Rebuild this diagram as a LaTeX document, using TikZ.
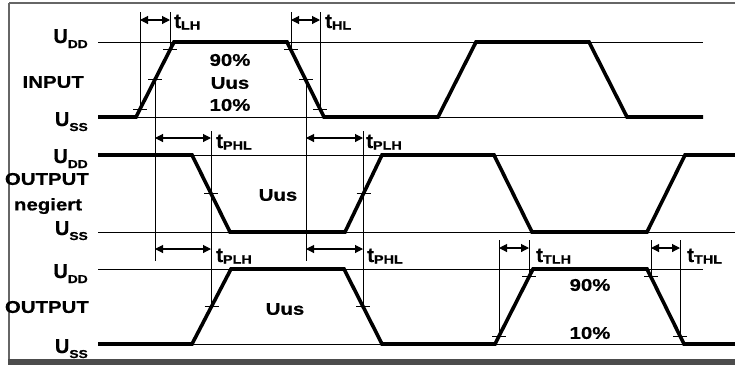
\documentclass[tikz,border=0pt]{standalone}
\usepackage{fontspec}
\setmainfont[BoldFeatures={FakeBold=0.6}]{Liberation Sans}
\newfontfamily\widefont[FakeStretch=1.2, BoldFeatures={FakeBold=0.6}]{Liberation Sans}
\usetikzlibrary{arrows.meta}
\newcommand\ulab[1]{{\fontsize{20}{20}\bfseries\selectfont U}\raisebox{-5pt}{\widefont\fontsize{11.5}{11.5}\bfseries\selectfont #1}}
\newcommand\tlab[1]{{\fontsize{20.5}{20.5}\bfseries\selectfont t}\raisebox{-1.5pt}{\widefont\fontsize{12}{12}\bfseries\selectfont #1}}
\tikzset{
  wave/.style={line width=3.6pt, line join=miter},
  refline/.style={line width=0.8pt},
  vline/.style={line width=0.8pt},
  tickmark/.style={line width=1.5pt},
  dimarrow/.style={line width=1.1pt, {Triangle[length=8pt,width=8pt]}-{Triangle[length=8pt,width=8pt]}},
  txt/.style={font=\widefont\fontsize{17}{17}\bfseries\selectfont, inner sep=0pt},
  lvl/.style={inner sep=0pt, anchor=base east},
  tl/.style={inner sep=0pt, anchor=base west},
}
\begin{document}
\begin{tikzpicture}[x=1pt,y=-1pt]
\useasboundingbox (0,0) rectangle (735,365);
\fill[white] (0,0) rectangle (735,365);
% frame
\draw[line width=2.2pt, black!60] (9,3) -- (9,360) ;
\draw[line width=2.2pt, black!60] (9,3) -- (740,3);
\fill[black!70] (8,359) rectangle (740,365);

% reference lines
\draw[refline] (98,42) -- (703,42);
\draw[refline] (98,117) -- (703,117);
\draw[refline] (98,155) -- (735,155);
\draw[refline] (98,232) -- (735,232);
\draw[refline] (98,269) -- (703,269);
\draw[refline] (98,344.5) -- (735,344.5);

% vertical helper lines
\draw[vline] (140,12) -- (140,110);
\draw[vline] (170,12) -- (170,50);
\draw[vline] (291,12) -- (291,50);
\draw[vline] (320,12) -- (320,110);
\draw[vline] (155,80) -- (155,261);
\draw[vline] (306,80) -- (306,261);
\draw[vline] (211,131) -- (211,309);
\draw[vline] (363,131) -- (363,309);
\draw[vline] (499,240) -- (499,337);
\draw[vline] (529,240) -- (529,277);
\draw[vline] (651,240) -- (651,277);
\draw[vline] (680,240) -- (680,337);

% dimension arrows
\draw[dimarrow] (140,20) -- (170,20);
\draw[dimarrow] (291,20) -- (320,20);
\draw[dimarrow] (155,138) -- (211,138);
\draw[dimarrow] (306,138) -- (363,138);
\draw[dimarrow] (155,249) -- (211,249);
\draw[dimarrow] (306,249) -- (363,249);
\draw[dimarrow] (499,248) -- (529,248);
\draw[dimarrow] (651,248) -- (680,248);

% waveforms
\draw[wave] (98,117) -- (136,117) -- (174,42) -- (287,42) -- (324,117) -- (438,117) -- (476,42) -- (589,42) -- (627,117) -- (703,117);
\draw[wave] (98,155) -- (192,155) -- (230,232) -- (345,232) -- (382,155) -- (494,155) -- (532,232) -- (647,232) -- (685,155) -- (736,155);
\draw[wave] (98,344) -- (192,344) -- (231,269) -- (344,269) -- (382,344) -- (495,344) -- (533,269) -- (647,269) -- (684,344) -- (736,344);

% tick marks
\foreach \x/\y in {140/109.5, 155/79.5, 170/49.5, 291/49.5, 306/79.5, 320/109.5,
                   211/193.5, 363.5/193.5, 211.5/306.5, 363/306.5,
                   499/336.5, 529/276.5, 651/276.5, 680/336.5}
  \draw[tickmark] (\x-7,\y) -- (\x+7,\y);

% level labels
\node[lvl] (udd1) at (88,43) {\ulab{DD}};
\node[lvl] (uss1) at (88,126) {\ulab{SS}};
\node[lvl] (udd2) at (88,163) {\ulab{DD}};
\node[lvl] (uss2) at (88,235) {\ulab{SS}};
\node[lvl] (udd3) at (88,278) {\ulab{DD}};
\node[lvl] (uss3) at (88,353) {\ulab{SS}};

% signal names
\node[txt, anchor=east] (in) at (84,82) {INPUT};
\node[txt, anchor=east] (outn) at (89,179) {OUTPUT};
\node[txt] (neg) at (48,206) {negiert};
\node[txt, anchor=east] (out) at (89,307) {OUTPUT};

% inner texts
\node[txt] (p90a) at (230,60) {90\%};
\node[txt] (uus1) at (230,83) {Uus};
\node[txt] (p10a) at (230,105) {10\%};
\node[txt] (uus2) at (278,195) {Uus};
\node[txt] (uus3) at (285,309) {Uus};
\node[txt] (p90b) at (590,285) {90\%};
\node[txt] (p10b) at (590,333) {10\%};

% timing labels
\node[tl] (tlh) at (174,28) {\tlab{LH}};
\node[tl] (thl) at (325,28) {\tlab{HL}};
\node[tl] (tphl2) at (216,148) {\tlab{PHL}};
\node[tl] (tplh2) at (366,148) {\tlab{PLH}};
\node[tl] (tplh3) at (216,262) {\tlab{PLH}};
\node[tl] (tphl3) at (367,262) {\tlab{PHL}};
\node[tl] (ttlh) at (536,262) {\tlab{TLH}};
\node[tl] (tthl) at (687,262) {\tlab{THL}};
\end{tikzpicture}
\end{document}
